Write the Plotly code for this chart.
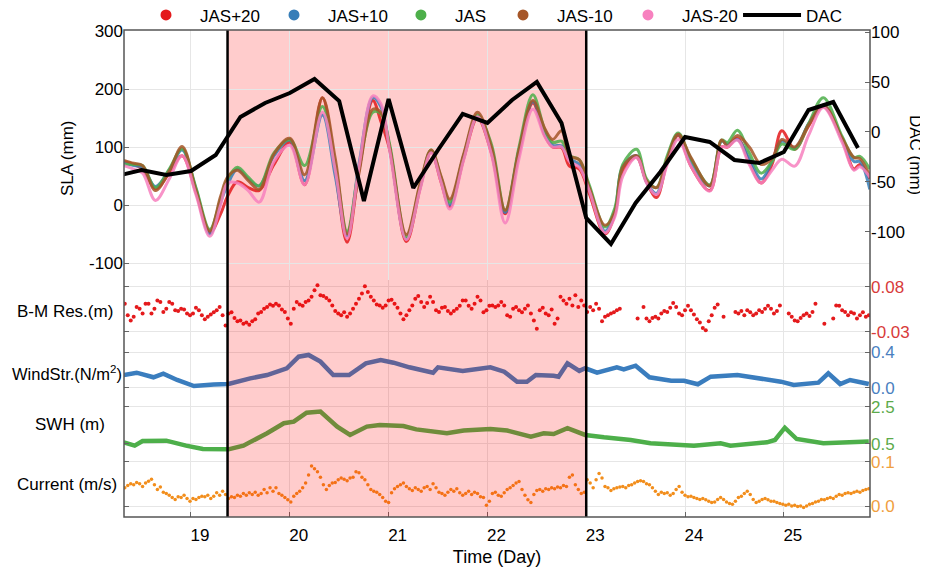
import plotly.graph_objects as go

FONT = "Liberation Sans, Arial, sans-serif"

# ---- SLA (mm), read at the turning points of the curves ----
sla_day = [18.32, 18.42, 18.51, 18.64, 18.78, 18.91, 19.05, 19.19, 19.30, 19.37, 19.47, 19.58, 19.69, 19.84,
           20.0, 20.15, 20.33, 20.46, 20.58, 20.70, 20.84, 20.92, 21.01, 21.18, 21.32, 21.43, 21.53, 21.62,
           21.76, 21.90, 22.04, 22.18, 22.32, 22.46, 22.58, 22.66, 22.75, 22.83, 22.93, 23.03, 23.19, 23.29,
           23.37, 23.51, 23.61, 23.71, 23.82, 23.93, 24.06, 24.25, 24.37, 24.43, 24.53, 24.65, 24.77, 24.88,
           24.98, 25.11, 25.25, 25.40, 25.59, 25.71, 25.77, 25.87]
sla_p20 = [75, 70, 62, 28, 55, 85, 22, -48, -15, 15, 40, 30, 25, 70, 108, 35, 185, 60, -64, 60, 180, 145,
           96, -63, 30, 92, 40, -3, 80, 150, 90, -15, 90, 176, 120, 100, 99, 67, 62, 20, -50, -15, 60, 82,
           40, 13, 75, 120, 67, 25, 100, 100, 115, 75, 38, 70, 128, 96, 136, 170, 113, 62, 70, 45]
sla_p10 = [72, 68, 65, 32, 60, 95, 28, -50, 5, 35, 62, 45, 33, 85, 112, 42, 155, 50, -53, 70, 185, 170,
           100, -58, 33, 93, 45, 0, 85, 153, 95, -13, 95, 178, 125, 103, 102, 80, 70, 30, -45, -10, 67, 85,
           40, 20, 80, 122, 75, 33, 110, 105, 113, 80, 45, 75, 110, 98, 140, 172, 115, 75, 75, 27]
sla_jas = [70, 70, 68, 30, 62, 97, 30, -42, 10, 45, 65, 48, 33, 90, 113, 68, 170, 70, -45, 62, 160, 158,
           105, -55, 35, 95, 48, 5, 85, 155, 105, -9, 100, 190, 130, 108, 110, 85, 78, 35, -38, -5, 70, 96,
           45, 30, 85, 124, 80, 35, 112, 108, 129, 90, 55, 75, 105, 96, 140, 185, 118, 82, 84, 62]
sla_m10 = [77, 72, 68, 25, 58, 101, 25, -45, 15, 48, 60, 42, 27, 88, 115, 52, 185, 80, -50, 55, 165, 160,
           100, -51, 38, 95, 50, 10, 88, 160, 100, -9, 95, 180, 132, 113, 128, 85, 78, 30, -35, -12, 65, 85,
           42, 30, 80, 122, 82, 33, 112, 102, 120, 100, 70, 80, 113, 100, 138, 172, 115, 82, 80, 50]
sla_m20 = [68, 62, 55, 8, 45, 85, 18, -54, 0, 38, 38, 25, 5, 75, 103, 35, 160, 60, -58, 65, 188, 175,
           95, -60, 28, 90, 40, -7, 78, 152, 88, -31, 80, 165, 118, 100, 100, 75, 65, 25, -48, -20, 50, 82,
           38, 18, 70, 113, 67, 24, 100, 100, 112, 70, 38, 60, 79, 67, 120, 168, 108, 60, 66, 48]

# ---- DAC (mm), 6-hourly ----
dac_day = [18.25, 18.5, 18.75, 19.0, 19.25, 19.5, 19.75, 20.0, 20.25, 20.5, 20.75, 21.0, 21.25, 21.5, 21.75,
           22.0, 22.25, 22.5, 22.75, 23.0, 23.25, 23.5, 23.75, 24.0, 24.25, 24.5, 24.75, 25.0, 25.25, 25.5, 25.75]
dac = [-44, -38, -43, -39, -23, 15, 29, 39, 53, 31, -69, 33, -56, -18, 18,
       9, 32, 50, 9, -86, -112, -71, -40, -5, -10, -28, -31, -20, 22, 30, -16]

# ---- wind stress (N/m2) ----
wind_day = [18.32, 18.45, 18.62, 18.72, 18.86, 19.03, 19.23, 19.38, 19.6, 19.77, 19.97, 20.09, 20.19, 20.31,
            20.44, 20.6, 20.77, 20.92, 21.05, 21.21, 21.45, 21.5, 21.75, 22.03, 22.17, 22.30, 22.40, 22.49,
            22.67, 22.72, 22.81, 22.93, 22.99, 23.11, 23.31, 23.38, 23.50, 23.64, 23.86, 23.99, 24.13, 24.26,
            24.53, 24.73, 24.97, 25.10, 25.35, 25.45, 25.57, 25.67, 25.86]
wind = [0.144, 0.17, 0.119, 0.16, 0.089, 0.022, 0.04, 0.044, 0.107, 0.144, 0.219, 0.348, 0.367, 0.293,
        0.144, 0.144, 0.274, 0.311, 0.281, 0.23, 0.17, 0.23, 0.19, 0.23, 0.181, 0.07, 0.07, 0.144,
        0.137, 0.126, 0.274, 0.19, 0.219, 0.17, 0.23, 0.207, 0.248, 0.119, 0.081, 0.081, 0.041, 0.126,
        0.144, 0.107, 0.07, 0.033, 0.059, 0.163, 0.044, 0.089, 0.044]

# ---- significant wave height (m) ----
swh_day = [18.32, 18.43, 18.51, 18.75, 18.95, 19.12, 19.38, 19.53, 19.77, 19.94, 20.04, 20.17, 20.31, 20.48,
           20.61, 20.78, 20.91, 21.15, 21.28, 21.59, 21.76, 22.03, 22.2, 22.44, 22.57, 22.67, 22.81, 22.99,
           23.18, 23.45, 23.65, 24.09, 24.36, 24.46, 24.83, 24.91, 25.01, 25.13, 25.40, 25.86]
swh = [0.59, 0.41, 0.66, 0.68, 0.41, 0.23, 0.21, 0.41, 1.08, 1.62, 1.71, 2.19, 2.25, 1.44,
       0.99, 1.44, 1.53, 1.47, 1.29, 1.08, 1.23, 1.31, 1.23, 0.90, 1.08, 1.04, 1.35, 0.99,
       0.86, 0.72, 0.54, 0.41, 0.54, 0.41, 0.59, 0.72, 1.38, 0.77, 0.54, 0.63]

# ---- dotted series, one reading every 0.03 day from 18.33 ----
dot_start, dot_step = 18.33, 0.03
bm_res = [.039, .011, -.002, .007, .031, .027, .015, .039, .039, .015,
          .027, .047, .043, .019, .027, .043, .039, .023, .021, .027,
          .025, .015, .011, .015, .029, .023, .011, .001, .007, .013,
          .018, .023, .031, .011, -.014, .015, .018, .004, -.004, -.002,
          -.010, -.007, -.012, -.004, .001, .015, .019, .027, .031, .037,
          .034, .039, .035, .025, .019, .003, -.010, .027, .043, .037,
          .034, .043, .047, .056, .072, .084, .060, .058, .053, .047,
          .035, .021, .015, .011, .018, .007, .015, .027, .039, .051,
          .064, .082, .068, .056, .047, .037, .035, .029, .035, .047,
          .049, .039, .029, .015, .001, .011, .023, .035, .051, .058,
          .043, .031, .041, .056, .043, .023, .019, .029, .031, .021,
          .015, .021, .027, .034, .047, .047, .034, .027, .039, .056,
          .047, .018, .023, .034, .035, .031, .035, .043, .035, .011,
          .007, .027, .031, .023, .018, .027, .035, .015, -.002, -.022,
          .023, .029, .015, .011, .025, -.010, .003, .056, .047, .039,
          .051, .035, .060, .031, .047, .035, .019, .031, .023, .039,
          .027, -.004, .007, .011, .015, .018, .023, .027, None, None,
          None, None, None, .003, None, .031, .003, -.004, .004, .007,
          .003, .015, .021, .019, .029, .041, .031, .015, .011, .023,
          .034, .023, .013, .001, -.007, -.020, -.026, -.004, .011, .029,
          .037, None, .007, None, None, None, .019, .015, .021, .011,
          .023, .018, .011, .015, .023, .019, .027, .034, .027, .015,
          .021, .035, None, None, .015, .007, -.002, -.004, .004, .011,
          .015, .009, .019, .039, None, None, -.010, None, None, .003,
          .035, .034, .023, .019, .011, .018, .015, .003, .011, .018,
          .007, .011]
current = [.042, .047, .051, .049, .054, .051, .045, .053, .057, .061,
           .049, .038, .044, .032, .029, .025, .020, .016, .022, .020,
           .025, .018, .012, .018, .016, .020, .023, .022, .025, .018,
           .023, .031, .025, .034, .027, .018, .022, .020, .025, .023,
           .029, .025, .031, .027, .032, .025, .029, .038, .031, .042,
           .034, .042, .029, .025, .020, .015, .010, .023, .029, .034,
           .042, .053, .071, .091, .085, .078, .066, .049, .038, .047,
           .053, .054, .060, .064, .061, .058, .064, .066, .078, .076,
           .066, .060, .049, .038, .034, .032, .027, .020, .012, .009,
           .031, .040, .045, .049, .053, .045, .040, .036, .042, .038,
           .034, .042, .045, .038, .051, .042, .032, .029, .025, .032,
           .038, .034, .040, .031, .025, .029, .034, .027, .032, .029,
           .022, .020, .003, .012, .029, .032, .025, .023, .031, .038,
           .042, .047, .053, .056, .038, .025, .015, .009, .027, .036,
           .038, .034, .040, .038, .042, .040, .044, .042, .047, .045,
           .066, .071, .049, .038, .029, .032, .060, .053, .042, .060,
           .074, .064, .045, .042, .036, .040, .042, .044, .045, .042,
           .047, .049, .053, .056, .058, .056, .051, .049, .042, .034,
           .027, .032, .029, .031, .025, .029, .038, .045, .032, .025,
           .022, .023, .020, .018, .016, .018, .015, .012, .009, .010,
           .016, .020, .016, .010, .007, .005, .012, .020, .023, .029,
           .034, .027, .016, .009, .012, .016, .018, .015, .012, .012,
           .009, .007, .005, .003, .005, .001, .003, .000, .001, -.002,
           .001, .005, .007, .010, .012, .016, .015, .018, .020, .018,
           .023, .027, .025, .029, .031, .029, .032, .034, .032, .036,
           .038, .040]
dot_day = [round(dot_start + dot_step * i, 2) for i in range(len(current))]

# event window (days)
event_start, event_end = 19.37, 23.0

sla_names = ["JAS+20", "JAS+10", "JAS", "JAS-10", "JAS-20"]
sla_series = [sla_p20, sla_p10, sla_jas, sla_m10, sla_m20]
sla_colors = ["#E41A1C", "#377EB8", "#4DAF4A", "#A65628", "#F781BF"]
legend_x = [0.0107, 0.1823, 0.3525, 0.4893, 0.6568, 0.8231]

fig = go.Figure()

for name, vals, col in zip(sla_names, sla_series, sla_colors):
    fig.add_trace(go.Scatter(x=sla_day, y=vals, mode="lines", line=dict(color=col, width=3, shape="spline"),
                             opacity=0.85, showlegend=False, yaxis="y"))

fig.add_trace(go.Scatter(x=dac_day, y=dac, mode="lines", name="DAC", line=dict(color="black", width=4),
                         yaxis="y2", legend="legend6"))

# legend dots for the SLA curves
for i, (name, col) in enumerate(zip(sla_names, sla_colors)):
    fig.add_trace(go.Scatter(x=[None], y=[None], mode="markers", name=name, marker=dict(color=col, size=11),
                             yaxis="y", legend="legend" if i == 0 else "legend%d" % (i + 1)))

fig.add_trace(go.Scatter(x=dot_day, y=bm_res, mode="markers", marker=dict(color="#E41A1C", size=4),
                         showlegend=False, yaxis="y3"))
fig.add_trace(go.Scatter(x=wind_day, y=wind, mode="lines", line=dict(color="#3A7DBE", width=4.5),
                         showlegend=False, yaxis="y4"))
fig.add_trace(go.Scatter(x=swh_day, y=swh, mode="lines", line=dict(color="#4DAF4A", width=4.5),
                         showlegend=False, yaxis="y5"))
fig.add_trace(go.Scatter(x=dot_day, y=current, mode="markers", marker=dict(color="#F28E1C", size=3.5),
                         showlegend=False, yaxis="y6"))

common = dict(ticks="inside", ticklen=5, tickcolor="#666", zeroline=False, showline=False,
              gridcolor="#e6e6e6", tickfont=dict(family=FONT, size=17, color="black"))


def side_axis(dom, rng, vals, color):
    ax = dict(common)
    ax.update(domain=dom, range=rng, side="right", anchor="x", mirror="ticks", showgrid=True,
              tickvals=vals, ticktext=["%.2f" % v if abs(v) < 0.09 and v != 0 else "%.1f" % v for v in vals],
              tickfont=dict(family=FONT, size=17, color=color))
    return ax


# the page body has an 8 px margin, so the figure is drawn 8 px in from the window corner
layout = dict(
    width=920, height=563,
    margin=dict(l=116, r=58, t=22, b=54, autoexpand=False),
    paper_bgcolor="white", plot_bgcolor="white",
    font=dict(family=FONT, size=17, color="black"),
    xaxis=dict(common, range=[18.322, 25.872], tickvals=[19, 20, 21, 22, 23, 24, 25], anchor="y6",
               showgrid=True, ticklabelshift=9, ticklabelstandoff=6,
               title=dict(text="Time (Day)", font=dict(size=18), standoff=6)),
    yaxis=dict(common, domain=[0.4867, 1], range=[-129.2, 301.7], tickvals=[-100, 0, 100, 200, 300],
               ticktext=["-100", "0", "100", "200", "300"], anchor="x", showgrid=True),
    yaxis2=dict(common, overlaying="y", side="right", anchor="x", range=[-148, 102],
                tickvals=[-100, -50, 0, 50, 100], ticktext=["-100", "-50", "0", "50", "100"], showgrid=False),
    yaxis3=side_axis([0.3593, 0.4867], [-0.0545, 0.0971], [-0.03, 0.08], "#D83A3A"),
    yaxis4=side_axis([0.2444, 0.3593], [-0.111, 0.511], [0.0, 0.4], "#4A7FC0"),
    yaxis5=side_axis([0.1314, 0.2444], [0.0135, 2.986], [0.5, 2.5], "#5CAA4A"),
    yaxis6=side_axis([0.0, 0.1314], [-0.0236, 0.1202], [0.0, 0.1], "#F0A040"),
)
for i, lx in enumerate(legend_x):
    key = "legend" if i == 0 else "legend%d" % (i + 1)
    layout[key] = dict(x=lx, y=1.03, xanchor="left", yanchor="middle", orientation="h", itemwidth=58,
                       bgcolor="rgba(0,0,0,0)", font=dict(family=FONT, size=17))
fig.update_layout(**layout)

# shaded event window: behind the SLA curves on top, a red tint over the lower panels
fig.add_shape(type="rect", xref="x", yref="paper", x0=event_start, x1=event_end, y0=0.4867, y1=1,
              fillcolor="rgba(255,0,0,0.2)", line=dict(width=0), layer="between")
fig.add_shape(type="rect", xref="x", yref="paper", x0=event_start, x1=event_end, y0=0, y1=0.4867,
              fillcolor="rgba(255,0,0,0.2)", line=dict(width=0), layer="above")
for xv in (event_start, event_end):
    fig.add_shape(type="line", xref="x", yref="paper", x0=xv, x1=xv, y0=0, y1=1,
                  line=dict(color="black", width=2.5), layer="above")
fig.add_shape(type="rect", xref="paper", yref="paper", x0=0, x1=1, y0=0, y1=1,
              line=dict(color="#555", width=1.5), layer="above")

labels = [("SLA (mm)", -0.0764, 0.737, -90, 17), ("DAC (mm)", 1.0617, 0.7433, 90, 17),
          ("B-M Res.(m)", -0.0791, 0.421, 0, 17), ("WindStr.(N/m<sup>2</sup>)", -0.0764, 0.296, 0, 16.5),
          ("SWH (m)", -0.0724, 0.189, 0, 17), ("Current (m/s)", -0.0764, 0.066, 0, 17)]
for txt, ax_, ay_, ang, fs in labels:
    fig.add_annotation(text=txt, x=ax_, y=ay_, xref="paper", yref="paper", showarrow=False,
                       textangle=ang, xanchor="center", yanchor="middle", font=dict(family=FONT, size=fs))

fig.write_html("out.html")
